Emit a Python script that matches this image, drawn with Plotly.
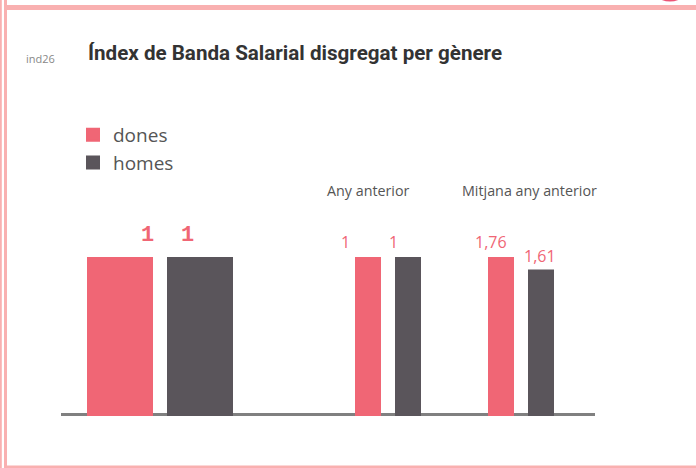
import plotly.graph_objects as go

W, H = 696, 468

# ---- data ----
genders = ["dones", "homes"]
colors = {"dones": "#f06675", "homes": "#5a555b"}
group_names = ["Any actual", "Any anterior", "Mitjana any anterior"]
current_year = [1, 1]
previous_year = [1, 1]
previous_avg = [1.76, 1.61]
groups = [current_year, previous_year, previous_avg]
title_text = "Índex de Banda Salarial disgregat per gènere"
indicator_code = "ind26"

def px_x(p):
    return p / W

def px_y(p):
    return 1 - p / H

fig = go.Figure()

domains = [(80, 240), (348, 428), (481, 561)]
widths = [0.8, 0.6, 0.6]

for gi, vals in enumerate(groups):
    suffix = "" if gi == 0 else str(gi + 1)
    for g, v in zip(genders, vals):
        fig.add_trace(go.Bar(
            x=[g], y=[v], name=g, width=widths[gi],
            marker=dict(color=colors[g], line=dict(width=2, color=colors[g])),
            xaxis="x" + suffix, yaxis="y" + suffix,
            legendgroup=g, showlegend=(gi == 0), hoverinfo="skip",
        ))
    d = domains[gi]
    fig.layout["xaxis" + suffix] = dict(
        domain=[px_x(d[0]), px_x(d[1])], type="category",
        categoryorder="array", categoryarray=genders, range=[-0.5, 1.5],
        visible=False, anchor="y" + suffix, fixedrange=True)
    fig.layout["yaxis" + suffix] = dict(
        domain=[px_y(416), px_y(257)], range=[0, max(vals)],
        visible=False, anchor="x" + suffix, fixedrange=True)

def fmt(v):
    return f"{v:g}".replace(".", ",")

annotations = []
# group 1 labels (bold mono)
shifts1 = [27, -13]
for g, v, s in zip(genders, current_year, shifts1):
    annotations.append(dict(x=g, y=v, xref="x", yref="y", text=fmt(v),
                            showarrow=False, xshift=s, yshift=22,
                            yanchor="middle", xanchor="center",
                            font=dict(family="Liberation Mono", size=22,
                                      color=colors["dones"], weight="bold")))
shifts2 = [-23, -15]
for g, v, s in zip(genders, previous_year, shifts2):
    annotations.append(dict(x=g, y=v, xref="x2", yref="y2", text=fmt(v),
                            showarrow=False, xshift=s, yshift=15,
                            yanchor="middle", xanchor="center",
                            font=dict(family="Open Sans", size=16,
                                      color=colors["dones"])))
shifts3 = [-10, -1]
for g, v, s in zip(genders, previous_avg, shifts3):
    annotations.append(dict(x=g, y=v, xref="x3", yref="y3", text=fmt(v),
                            showarrow=False, xshift=s, yshift=15,
                            yanchor="middle", xanchor="center",
                            font=dict(family="Open Sans", size=16,
                                      color=colors["dones"])))
# group headers
annotations.append(dict(x=px_x(368), y=px_y(190), xref="paper", yref="paper",
                        text=group_names[1], showarrow=False,
                        xanchor="center", yanchor="middle",
                        font=dict(family="Open Sans", size=14.3, color="#555")))
annotations.append(dict(x=px_x(529), y=px_y(190), xref="paper", yref="paper",
                        text=group_names[2], showarrow=False,
                        xanchor="center", yanchor="middle",
                        font=dict(family="Open Sans", size=14.3, color="#555")))
# title
annotations.append(dict(x=px_x(86), y=px_y(53), xref="paper", yref="paper",
                        text="<b>" + title_text + "</b>", showarrow=False,
                        xanchor="left", yanchor="middle",
                        font=dict(family="Roboto", size=20.6, color="#333")))
annotations.append(dict(x=px_x(24), y=px_y(58), xref="paper", yref="paper",
                        text=indicator_code, showarrow=False,
                        xanchor="left", yanchor="middle",
                        font=dict(family="Open Sans", size=11, color="#888")))

shapes = [
    # baseline
    dict(type="line", xref="paper", yref="paper", x0=px_x(61), x1=px_x(595),
         y0=px_y(414.5), y1=px_y(414.5), line=dict(color="#808080", width=3),
         layer="below"),
    # frame
    dict(type="rect", xref="paper", yref="paper", x0=px_x(7), x1=1,
         y0=px_y(10), y1=px_y(5), fillcolor="#f9b0b0", line=dict(width=0)),
    dict(type="rect", xref="paper", yref="paper", x0=px_x(7), x1=1,
         y0=px_y(468), y1=px_y(465.5), fillcolor="#f9b0b0", line=dict(width=0)),
    dict(type="rect", xref="paper", yref="paper", x0=0, x1=px_x(1.8),
         y0=0, y1=1, fillcolor="#f9b0b0", line=dict(width=0)),
    dict(type="rect", xref="paper", yref="paper", x0=px_x(4), x1=px_x(7),
         y0=0, y1=1, fillcolor="#f9b0b0", line=dict(width=0)),
    dict(type="circle", xref="paper", yref="paper", x0=px_x(648), x1=px_x(692),
         y0=px_y(1.5), y1=px_y(-40), fillcolor="#e8365d", line=dict(width=0),
         opacity=0.85),
]

fig.update_layout(
    width=W, height=H, margin=dict(l=0, r=0, t=0, b=0),
    paper_bgcolor="white", plot_bgcolor="rgba(0,0,0,0)",
    barmode="overlay", showlegend=True,
    legend=dict(x=px_x(73), y=px_y(116), xanchor="left", yanchor="top",
                font=dict(family="Open Sans", size=19, color="#555"),
                bgcolor="rgba(0,0,0,0)", tracegroupgap=0,
                itemclick=False, itemdoubleclick=False),
    annotations=annotations, shapes=shapes,
)

fig.write_html(
    "out.html",
    config={"displayModeBar": False, "staticPlot": True},
    post_script="document.body.style.margin='0';document.body.style.overflow='hidden';",
)
